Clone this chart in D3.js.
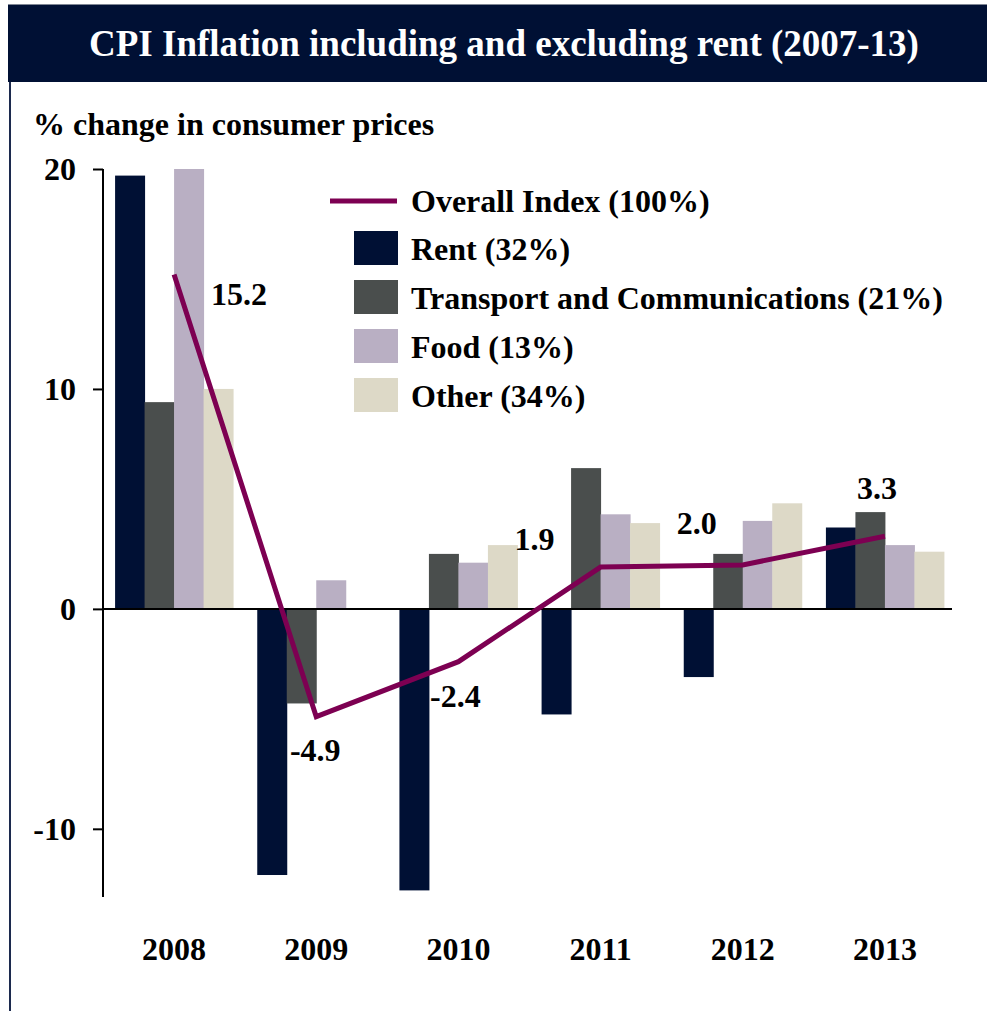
<!DOCTYPE html>
<html>
<head>
<meta charset="utf-8">
<script src="https://cdn.jsdelivr.net/npm/d3@7"></script>
<style>
  html, body { margin: 0; padding: 0; background: #fff; }
  svg { display: block; }
  text { font-family: "Liberation Serif", "Times New Roman", serif; font-weight: bold; }
</style>
</head>
<body>
<svg id="chart" width="987" height="1011"></svg>
<script>
// Years on the category axis
const years = ["2008", "2009", "2010", "2011", "2012", "2013"];

// Component price changes, % per year
const rent      = [19.7, -12.1, -12.8, -4.8, -3.1, 3.7];
const transport = [9.4, -4.3, 2.5, 6.4, 2.5, 4.4];
const food      = [20.0, 1.3, 2.1, 4.3, 4.0, 2.9];
const other     = [10.0, 0.0, 2.9, 3.9, 4.8, 2.6];

// Overall index, % per year
const overall = [15.2, -4.9, -2.4, 1.9, 2.0, 3.3];

// Series names shown in the legend
const seriesNames = ["Rent (32%)", "Transport and Communications (21%)", "Food (13%)", "Other (34%)"];
const overallName = "Overall Index (100%)";

// Y axis ticks
const yTicks = [-10, 0, 10, 20];

const colors = ["#001034", "#4a4e4d", "#b9afc3", "#ddd9c7"];
const lineColor = "#7d0052";
const fs = 32;

// Plain hyphen for negatives
const fmtInt = d => String(d);
const fmt1 = d => d.toFixed(1);

const svg = d3.select("#chart");

// Title banner
svg.append("rect").attr("x", 8).attr("y", 4).attr("width", 979).attr("height", 78)
  .attr("fill", "#001034");
svg.append("line").attr("x1", 8).attr("x2", 987).attr("y1", 4.5).attr("y2", 4.5)
  .attr("stroke", "#7f8694").attr("stroke-width", 1);
svg.append("text").attr("x", 504).attr("y", 56).attr("text-anchor", "middle")
  .attr("fill", "#fff").attr("font-size", 37).text("CPI Inflation including and excluding rent (2007-13)");

// Frame line down the left side
svg.append("line").attr("x1", 10).attr("x2", 10).attr("y1", 82).attr("y2", 1011)
  .attr("stroke", "#1c2a4e").attr("stroke-width", 2);

// Axis title
svg.append("text").attr("x", 33).attr("y", 135).attr("font-size", fs)
  .attr("fill", "#000").text("% change in consumer prices");

// Scales
const y = d3.scaleLinear().domain([-13.1, 20]).range([897, 169]);
const x = d3.scaleBand().domain(years).range([103, 956]).paddingInner(0.17).paddingOuter(0.085);
const xs = d3.scaleBand().domain(d3.range(4)).range([0, x.bandwidth()]);

const g = svg.append("g");

// Bars
const series = [rent, transport, food, other];
series.forEach((vals, si) => {
  g.selectAll(null).data(vals.map((v, i) => ({ year: years[i], v })))
    .enter().append("rect")
    .attr("x", d => x(d.year) + xs(si))
    .attr("width", xs.bandwidth() + 0.5)
    .attr("y", d => y(Math.max(0, d.v)))
    .attr("height", d => Math.abs(y(d.v) - y(0)))
    .attr("fill", colors[si]);
});

// Zero line
g.append("line").attr("x1", 103).attr("x2", 952).attr("y1", y(0)).attr("y2", y(0))
  .attr("stroke", "#000").attr("stroke-width", 2);

// Y axis
const yAxis = d3.axisLeft(y).tickValues(yTicks).tickSize(10).tickPadding(17).tickFormat(fmtInt);
const ya = svg.append("g").attr("transform", "translate(103,0)").call(yAxis);
ya.select(".domain").attr("stroke", "#000").attr("stroke-width", 2).attr("d", `M0,${y(20)}V${y(-13.1)}`);
ya.selectAll(".tick line").attr("stroke", "#000").attr("stroke-width", 2);
ya.selectAll(".tick text").attr("font-size", fs).attr("fill", "#000")
  .attr("font-family", "Liberation Serif, serif").attr("font-weight", "bold");

// X axis labels
const xAxis = d3.axisBottom(x).tickSize(0).tickPadding(0);
const xa = svg.append("g").attr("transform", "translate(0,937)").call(xAxis);
xa.select(".domain").remove();
xa.selectAll(".tick text").attr("font-size", fs).attr("fill", "#000")
  .attr("font-family", "Liberation Serif, serif").attr("font-weight", "bold");

// Overall index line
const line = d3.line().x((d, i) => x(years[i]) + x.bandwidth() / 2).y(d => y(d));
g.append("path").datum(overall).attr("d", line).attr("fill", "none")
  .attr("stroke", lineColor).attr("stroke-width", 5);

// Value labels on the overall line
const labelOffsets = [[65, 30], [-1, 44], [-3, 45], [-66, -17], [-46, -31], [-8, -37]];
g.selectAll(null).data(overall).enter().append("text")
  .attr("x", (d, i) => x(years[i]) + x.bandwidth() / 2 + labelOffsets[i][0])
  .attr("y", (d, i) => y(d) + labelOffsets[i][1])
  .attr("text-anchor", "middle").attr("font-size", fs).attr("fill", "#000")
  .text(fmt1);

// Legend
const lg = svg.append("g");
lg.append("line").attr("x1", 330).attr("x2", 397).attr("y1", 201).attr("y2", 201)
  .attr("stroke", lineColor).attr("stroke-width", 5);
lg.append("text").attr("x", 411).attr("y", 212).attr("font-size", fs).attr("fill", "#000").text(overallName);
seriesNames.forEach((name, i) => {
  const top = 231 + i * 49;
  lg.append("rect").attr("x", 354).attr("y", top).attr("width", 44).attr("height", 34).attr("fill", colors[i]);
  lg.append("text").attr("x", 411).attr("y", top + 29).attr("font-size", fs).attr("fill", "#000").text(name);
});
</script>
</body>
</html>
